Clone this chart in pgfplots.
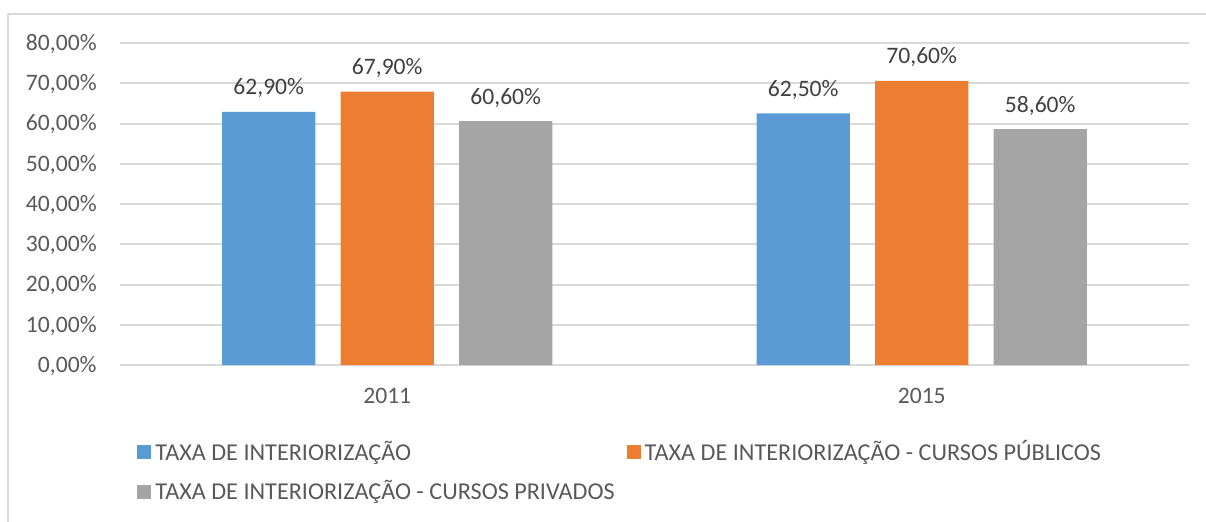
\documentclass[border=0pt]{standalone}
\usepackage{pgfplots}
\pgfplotsset{compat=1.18}
\usepackage{fontspec}
\setmainfont{Carlito}
\definecolor{cblue}{HTML}{5B9BD5}
\definecolor{corange}{HTML}{ED7D31}
\definecolor{cgray}{HTML}{A5A5A5}
\definecolor{cgrid}{HTML}{D9D9D9}
\definecolor{ctext}{HTML}{595959}
\definecolor{clab}{HTML}{404040}
\newcommand{\f}{\fontsize{11.8}{14}\selectfont}
\newcommand{\fl}{\fontsize{12.1}{14}\selectfont}
\begin{document}
\begin{tikzpicture}[font=\f]
\useasboundingbox (-60pt,-78pt) rectangle (543pt,182.5pt);
\draw[cgrid, line width=0.8pt] (-56pt,-120pt) rectangle (580pt,175.5pt);
\begin{axis}[
  at={(0pt,0pt)}, anchor=south west,
  scale only axis, width=534.5pt, height=161pt,
  xmin=-0.5, xmax=1.5, ymin=0, ymax=80,
  xtick={0,1}, xticklabels={2011,2015},
  ytick={0,10,...,80},
  axis line style={draw=none},
  major tick length=0pt,
  ymajorgrids, grid style={cgrid, line width=1pt},
  /pgf/number format/assume math mode=true,
  /pgf/number format/.cd, use comma, fixed, fixed zerofill, precision=2,
  /pgfplots/.cd,
  yticklabel={\pgfmathprintnumber{\tick}\%},
  yticklabel style={font=\f, text=ctext, anchor=base east, inner sep=0pt, xshift=-11.5pt, yshift=-3.7pt},
  xticklabel style={font=\f, text=ctext, anchor=base, inner sep=0pt, yshift=-19pt},
  ybar, bar width=46.7pt,
  nodes near coords={\pgfmathprintnumber{\pgfplotspointmeta}\%},
  every node near coord/.append style={font=\f, text=clab, anchor=base, inner sep=0pt, yshift=8.5pt},
  legend columns=2,
  legend cell align=left,
  legend style={at={(rel axis cs:0,0)}, anchor=north west, xshift=8.5pt, yshift=-35.5pt,
    draw=none, fill=none, font=\fl, text=ctext, inner sep=0pt, row sep=4.5pt,
    /tikz/every even column/.append style={column sep=4pt}},
  legend image code/.code={\fill[#1] (0pt,-3.5pt) rectangle (7pt,3.5pt);},
]
\addplot[fill=cblue, draw=none, bar shift=-59.25pt] coordinates {(0,62.9) (1,62.5)};
\addplot[fill=corange, draw=none, bar shift=0pt] coordinates {(0,67.9) (1,70.6)};
\addplot[fill=cgray, draw=none, bar shift=59.25pt] coordinates {(0,60.6) (1,58.6)};
\legend{TAXA DE INTERIORIZAÇÃO, TAXA DE INTERIORIZAÇÃO - CURSOS PÚBLICOS, TAXA DE INTERIORIZAÇÃO - CURSOS PRIVADOS}
\end{axis}
\end{tikzpicture}
\end{document}
